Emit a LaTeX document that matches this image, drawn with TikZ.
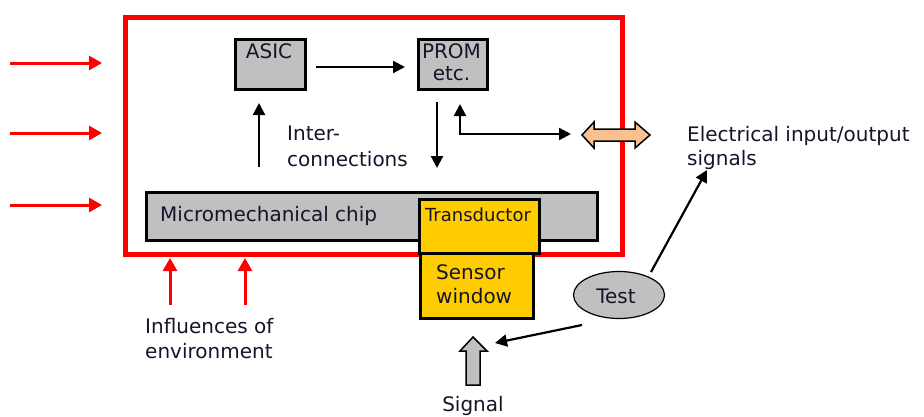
\documentclass[tikz,border=0pt]{standalone}
\usepackage{fontspec}
\setmainfont{DejaVu Sans}
\usetikzlibrary{arrows.meta,shapes.geometric}
\definecolor{boxgrey}{HTML}{C0C0C0}
\definecolor{sensyellow}{HTML}{FFCC00}
\definecolor{peach}{HTML}{FAC090}
\definecolor{txt}{HTML}{15152A}
\begin{document}
\begin{tikzpicture}[x=1pt,y=-1pt,
  greybox/.style={draw=black,line width=3pt,fill=boxgrey,inner sep=0pt,anchor=north west},
  yelbox/.style={draw=black,line width=2.5pt,fill=sensyellow,inner sep=0pt,anchor=north west},
  blk/.style={line width=2.2pt,-{Triangle[length=12pt,width=12pt]}},
  redarr/.style={red,line width=3pt,-{Triangle[length=13pt,width=14pt]}},
  blockarrow/.style={draw=black,line width=1.5pt,line join=miter},
  lbl/.style={font=\fontsize{20}{26}\selectfont,text=txt,inner sep=0pt,anchor=base west},
  lblc/.style={lbl,anchor=base}
]
\useasboundingbox (0,0) rectangle (924,416);
% red enclosure
\node[draw=red,line width=5pt,minimum width=497pt,minimum height=237pt,anchor=north west,inner sep=0pt] (encl) at (123,15) {};
% ASIC and PROM
\node[greybox,minimum width=70pt,minimum height=50pt] (asic) at (234,38) {};
\node[lblc] (asict) at (269,58) {ASIC};
\node[greybox,minimum width=69pt,minimum height=50pt] (prom) at (417,38) {};
\node[lblc] (promt) at (451.5,58) {PROM};
\node[lblc] (promt2) at (451.5,80) {etc.};
\draw[blk] (316,67) -- (405,67);
% interconnection arrows
\coordinate (ua) at (259,167);
\coordinate (ua2) at (259,103);
\draw[blk] (ua) -- (ua2);
\node[lbl] (inter) at (287,140) {Inter-};
\node[lbl] (inter2) at (287,166) {connections};
\coordinate (pd) at (437,102);
\coordinate (pd2) at (437,168);
\draw[blk] (pd) -- (pd2);
\coordinate (rr) at (571,134);
\coordinate (rp) at (460,104);
\draw[line width=2.2pt,{Triangle[length=12pt,width=12pt]}-{Triangle[length=12pt,width=12pt]}] (rp) -- (460,134) -- (rr);
% orange double arrow
\draw[blockarrow,fill=peach] (582,135) -- (594,122) -- (594,129) -- (635,129) -- (635,122) -- (650,135) -- (635,148) -- (635,141) -- (594,141) -- (594,148) -- cycle;
\node[lbl] (elec) at (687,141) {Electrical input/output};
\node[lbl] (elec2) at (687,165) {signals};
% micromechanical chip
\node[greybox,minimum width=451pt,minimum height=48pt] (chip) at (145,191) {};
\node[lbl] (chipt) at (160,221) {Micromechanical chip};
% transductor & sensor window
\node[yelbox,minimum width=120pt,minimum height=54pt] (trans) at (418,198) {};
\node[lblc,font=\fontsize{18}{22}\selectfont] (transt) at (478,221) {Transductor};
\node[yelbox,minimum width=113pt,minimum height=65pt] (sens) at (419,252) {};
\node[lbl] (senst) at (436,279) {Sensor};
\node[lbl] (senst2) at (436,303) {window};
% test
\node[ellipse,draw=black,line width=1.2pt,fill=boxgrey,minimum width=91pt,minimum height=47pt,inner sep=0pt] (test) at (619,295) {};
\node[lblc] (testt) at (616,303) {Test};
\coordinate (ts) at (582,325);
\coordinate (tsig) at (495,343);
\draw[blk] (ts) -- (tsig);
\coordinate (te) at (651,272);
\coordinate (tel) at (707,170);
\draw[blk] (te) -- (tel);
% signal arrow
\draw[blockarrow,fill=boxgrey] (466,385) -- (466,351) -- (460,351) -- (473,337) -- (487,351) -- (480,351) -- (480,385) -- cycle;
\node[lblc] (sigt) at (473,411) {Signal};
% environment arrows
\coordinate (l1) at (102,63);
\coordinate (l2) at (102,133);
\coordinate (l3) at (102,205);
\draw[redarr] (10,63) -- (l1);
\draw[redarr] (10,133) -- (l2);
\draw[redarr] (10,205) -- (l3);
\coordinate (b1) at (170,258);
\coordinate (b2) at (245,258);
\draw[redarr] (170,305) -- (b1);
\draw[redarr] (245,305) -- (b2);
\node[lbl] (infl) at (145,333) {Influences of};
\node[lbl] (infl2) at (145,358) {environment};
\end{tikzpicture}
\end{document}
